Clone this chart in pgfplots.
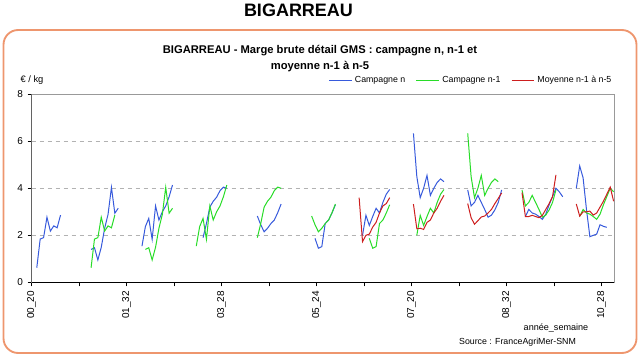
\documentclass[border=0pt]{standalone}
\usepackage{pgfplots}
\pgfplotsset{compat=1.18}
\usepackage{fontspec}
\setmainfont{Liberation Sans}
\definecolor{cblue}{RGB}{55,90,220}
\definecolor{cgreen}{RGB}{40,220,40}
\definecolor{cred}{RGB}{205,30,30}
\definecolor{cbord}{RGB}{238,150,110}

\pgfplotstableread{
x y
1 0.62
2 1.84
3 1.90
4 2.77
5 2.18
6 2.40
7 2.32
8 2.86
9 nan
17 1.40
18 1.47
19 0.95
20 1.49
21 2.30
22 2.89
23 4.04
24 2.94
25 3.15
26 nan
32 1.54
33 2.37
34 2.72
35 1.83
36 3.25
37 2.65
38 3.00
39 3.25
40 3.64
41 4.14
42 nan
50 1.90
51 2.50
52 3.20
53 3.45
54 3.62
55 3.90
56 4.05
57 4.00
58 nan
66 2.82
67 2.45
68 2.15
69 2.30
70 2.50
71 2.65
72 2.96
73 3.33
74 nan
83 1.87
84 1.45
85 1.52
86 2.50
87 2.65
88 2.95
89 3.30
90 nan
97 2.00
98 2.85
99 2.42
100 2.80
101 3.15
102 2.95
103 3.40
104 3.75
105 3.95
106 nan
112 6.34
113 4.50
114 3.60
115 4.00
116 4.55
117 3.70
118 4.00
119 4.25
120 4.40
121 4.28
122 nan
128 3.93
129 3.25
130 3.40
131 3.70
132 3.40
133 3.10
134 2.77
135 2.86
136 3.08
137 3.40
138 3.93
139 nan
145 2.80
146 3.10
147 2.95
148 2.90
149 2.80
150 2.68
151 2.90
152 3.30
153 3.65
154 4.00
155 3.85
156 3.64
157 nan
160 4.00
161 4.95
162 4.45
163 3.10
164 1.94
165 2.00
166 2.05
167 2.45
168 2.38
169 2.34
}\campn

\pgfplotstableread{
x y
17 0.62
18 1.84
19 1.90
20 2.77
21 2.18
22 2.40
23 2.32
24 2.86
25 nan
33 1.40
34 1.47
35 0.95
36 1.49
37 2.30
38 2.89
39 4.04
40 2.94
41 3.15
42 nan
48 1.54
49 2.37
50 2.72
51 1.83
52 3.25
53 2.65
54 3.00
55 3.25
56 3.64
57 4.14
58 nan
66 1.90
67 2.50
68 3.20
69 3.45
70 3.62
71 3.90
72 4.05
73 4.00
74 nan
82 2.82
83 2.45
84 2.15
85 2.30
86 2.50
87 2.65
88 2.96
89 3.33
90 nan
99 1.87
100 1.45
101 1.52
102 2.50
103 2.65
104 2.95
105 3.30
106 nan
113 2.00
114 2.85
115 2.42
116 2.80
117 3.15
118 2.95
119 3.40
120 3.75
121 3.95
122 nan
128 6.34
129 4.50
130 3.60
131 4.00
132 4.55
133 3.70
134 4.00
135 4.25
136 4.40
137 4.28
138 nan
144 3.93
145 3.25
146 3.40
147 3.70
148 3.40
149 3.10
150 2.77
151 2.86
152 3.08
153 3.40
154 3.93
155 nan
161 2.80
162 3.10
163 2.95
164 2.90
165 2.80
166 2.68
167 2.90
168 3.30
169 3.65
170 4.00
171 3.85
}\campnm

\pgfplotstableread{
x y
96 3.60
97 1.73
98 2.00
99 2.05
100 2.35
101 2.55
102 2.95
103 3.25
104 3.35
105 3.60
106 nan
112 3.33
113 2.28
114 2.30
115 2.25
116 2.55
117 2.65
118 2.95
119 3.15
120 3.45
121 3.70
122 nan
128 3.35
129 2.75
130 2.47
131 2.62
132 2.78
133 2.82
134 2.95
135 3.10
136 3.35
137 3.57
138 3.80
139 nan
144 3.82
145 2.80
146 2.80
147 2.85
148 2.80
149 2.75
150 2.85
151 3.10
152 3.35
153 3.65
154 4.57
155 nan
160 3.33
161 2.82
162 3.00
163 3.00
164 3.03
165 2.86
166 2.95
167 3.20
168 3.45
169 3.75
170 4.05
171 3.45
}\moy

\begin{document}
\begin{tikzpicture}[x=0.75pt,y=0.75pt]
\path[use as bounding box] (0,0) rectangle (640,358);
\draw[cbord, line width=1.4pt, rounded corners=11pt] (3.5,328) rectangle (636.5,5);
\node[font=\bfseries\fontsize{13.5}{15}\selectfont] at (298.5,348) {BIGARREAU};
\node[align=center, font=\bfseries\fontsize{8.4}{12}\selectfont] at (320,299)
  {BIGARREAU - Marge brute détail GMS : campagne n, n-1 et\\moyenne n-1 à n-5};
\node[font=\fontsize{7}{8}\selectfont] at (32,278) {€ / kg};
\node[font=\fontsize{6.8}{8}\selectfont] at (556,30) {année\_semaine};
\node[font=\fontsize{6.6}{8}\selectfont] at (517.5,16) {Source : FranceAgriMer-SNM};
\begin{axis}[
  at={(23.775pt,56.775pt)}, anchor=south west,
  scale only axis, width=436.95pt, height=141pt,
  xmin=-0.5, xmax=171.2, ymin=0, ymax=8,
  xtick={-0.5,13.5,...,167.5},
  xticklabels={00\_20,,01\_32,,03\_28,,05\_24,,07\_20,,08\_32,,10\_28},
  ytick={0,2,4,6,8},
  ymajorgrids,
  grid style={dashed, gray!60, line width=0.6pt},
  axis line style={gray!80, line width=0.6pt},
  tick style={black, line width=0.6pt},
  tick align=outside,
  major tick length=3pt,
  xtick pos=left, ytick pos=left,
  /pgf/number format/assume math mode=true,
  tick label style={font=\fontsize{7.5}{9}\selectfont},
  xticklabel style={rotate=90, anchor=east},
  unbounded coords=jump,
  legend style={at={(1,1)}, anchor=south east, yshift=3pt, xshift=3pt, draw=none, fill=none,
    legend columns=3, font=\fontsize{6.6}{8}\selectfont,
    /tikz/every even column/.append style={column sep=6pt}},
  legend image code/.code={\draw[#1] (0pt,0pt) -- (17pt,0pt);},
  legend cell align=left,
]
\addplot[cblue, line width=0.75pt] table[x=x,y=y] {\campn};
\addlegendentry{Campagne n}
\addplot[cgreen, line width=0.75pt] table[x=x,y=y] {\campnm};
\addlegendentry{Campagne n-1}
\addplot[cred, line width=0.75pt] table[x=x,y=y] {\moy};
\addlegendentry{Moyenne n-1 à n-5}
\draw[black, line width=0.7pt] (rel axis cs:0,1) -- (rel axis cs:0,0) -- (rel axis cs:1,0);
\end{axis}
\end{tikzpicture}
\end{document}
